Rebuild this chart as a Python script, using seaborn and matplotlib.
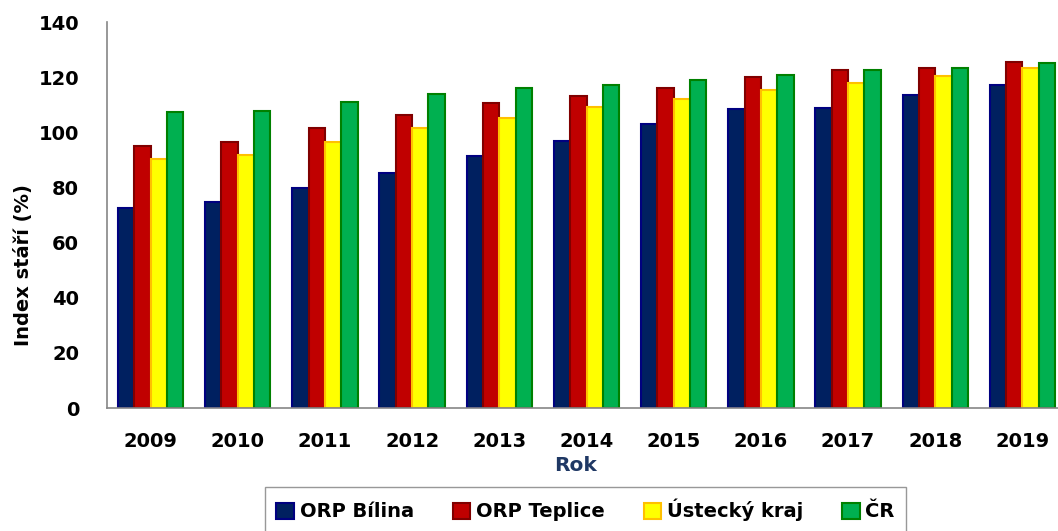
import pandas as pd
import numpy as np
import matplotlib
matplotlib.use("Agg")
import matplotlib.pyplot as plt
from matplotlib.patches import Patch
from matplotlib.ticker import FixedLocator
import seaborn as sns

# data
years = ["2009", "2010", "2011", "2012", "2013", "2014", "2015", "2016", "2017", "2018", "2019"]
bilina = [72.5, 74.8, 79.7, 85.2, 91.5, 97.0, 102.9, 108.3, 108.9, 113.6, 117.0]
teplice = [95.0, 96.4, 101.6, 106.2, 110.5, 113.2, 116.1, 120.0, 122.5, 123.4, 125.4]
ustecky = [90.3, 91.6, 96.5, 101.7, 105.3, 109.1, 112.2, 115.2, 117.8, 120.3, 123.4]
cr = [107.4, 107.8, 111.0, 113.8, 116.1, 117.3, 119.0, 120.8, 122.6, 123.3, 125.1]

series_names = ["ORP Bílina", "ORP Teplice", "Ústecký kraj", "ČR"]
fill_colors = ["#002060", "#C00000", "#FFFF00", "#00B050"]
edge_colors = ["#000080", "#800000", "#FFC000", "#008000"]

df = pd.DataFrame({
    "rok": years * 4,
    "hodnota": bilina + teplice + ustecky + cr,
    "rada": np.repeat(series_names, len(years)),
})

sns.set_style("white")
plt.rcParams["font.family"] = ["DejaVu Sans"]
plt.rcParams["text.color"] = "black"
plt.rcParams["axes.labelcolor"] = "black"
plt.rcParams["xtick.labelcolor"] = "black"
plt.rcParams["ytick.labelcolor"] = "black"

fig = plt.figure(figsize=(10.58, 5.31), dpi=100)
ax = fig.add_axes([107 / 1058, 123 / 531, 959 / 1058, 386 / 531])

sns.barplot(data=df, x="rok", y="hodnota", hue="rada", hue_order=series_names,
            palette=fill_colors, saturation=1, width=0.75, gap=0, ax=ax, legend=False)

for cont, ec in zip(ax.containers, edge_colors):
    for p in cont:
        p.set_edgecolor(ec)
        p.set_linewidth(1.5)

ax.set_xlim(-0.5, 10.5)
ax.set_ylim(0, 140)
ax.set_yticks(range(0, 141, 20))

for s in ["top", "right"]:
    ax.spines[s].set_visible(False)
for s in ["left", "bottom"]:
    ax.spines[s].set_color("#868686")
    ax.spines[s].set_linewidth(1.2)

ax.tick_params(axis="y", which="major", direction="out", length=5, width=1,
               color="#868686", pad=15, labelsize=14, labelcolor="black")
ax.tick_params(axis="x", which="major", length=0, pad=17, labelsize=14, labelcolor="black")
ax.xaxis.set_minor_locator(FixedLocator(np.arange(-0.5, 11, 1)))
ax.tick_params(axis="x", which="minor", direction="out", length=5, width=1, color="#868686")
for lbl in ax.get_xticklabels() + ax.get_yticklabels():
    lbl.set_fontweight("bold")

ax.set_ylabel("Index stáří (%)", fontsize=14, fontweight="bold", color="black")
ax.yaxis.set_label_coords(-0.077, 0.37)
ax.set_xlabel("Rok", fontsize=14.5, fontweight="bold", color="#1F3864")
ax.xaxis.set_label_coords(0.489, -0.125)

handles = [Patch(facecolor=f, edgecolor=e, linewidth=1.5) for f, e in zip(fill_colors, edge_colors)]
leg = ax.legend(handles, series_names, loc="upper center", bbox_to_anchor=(0.499, -0.205),
                borderaxespad=0, ncol=4, frameon=True, fancybox=False, fontsize=14,
                handlelength=0.9, handleheight=0.9, handletextpad=0.3, columnspacing=2.0,
                borderpad=0.6)
leg.get_frame().set_edgecolor("#7f7f7f")
leg.get_frame().set_linewidth(1.0)
for t in leg.get_texts():
    t.set_fontweight("bold")
    t.set_color("black")

fig.savefig("out.png", dpi=100)
